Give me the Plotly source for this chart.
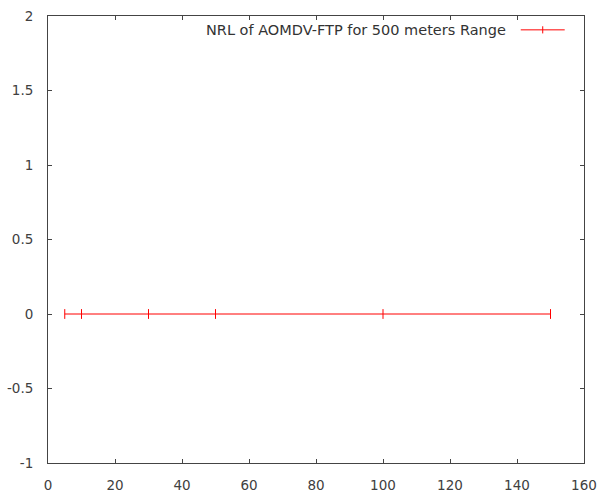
import plotly.graph_objects as go

# Data
x_values = [5, 10, 30, 50, 100, 150]
y_values = [0, 0, 0, 0, 0, 0]
series_name = "NRL of AOMDV-FTP for 500 meters Range"
x_ticks = [0, 20, 40, 60, 80, 100, 120, 140, 160]
y_ticks = [-1, -0.5, 0, 0.5, 1, 1.5, 2]
y_tick_text = ["-1", "-0.5", "0", "0.5", "1", "1.5", "2"]

FONT = "DejaVu Sans, Liberation Sans, Arial, sans-serif"

fig = go.Figure()
fig.add_trace(go.Scatter(
    x=x_values, y=y_values, mode="lines+markers", name=series_name,
    line=dict(color="#ff0000", width=1),
    marker=dict(symbol="line-ns", size=7, line=dict(color="#ff0000", width=1)),
    showlegend=False,
))

axis_common = dict(
    showline=True, linecolor="#444444", linewidth=1, mirror="allticks",
    ticks="inside", ticklen=4, tickcolor="#444444", tickwidth=1,
    showgrid=False, zeroline=False, automargin=False,
    tickfont=dict(family=FONT, size=13.5, color="#404040"),
)

fig.update_xaxes(range=[0, 160], tickvals=x_ticks, ticklabelstandoff=10, **axis_common)
fig.update_yaxes(range=[-1, 2], tickvals=y_ticks, ticktext=y_tick_text, ticklabelstandoff=11, **axis_common)

# legend (gnuplot-style: text then sample line)
fig.add_annotation(
    xref="paper", yref="paper", x=0.859, y=0.969, xanchor="right", yanchor="middle",
    text=series_name, showarrow=False,
    font=dict(family=FONT, size=14.5, color="#333333"),
)
fig.add_shape(type="line", xref="paper", yref="paper", x0=0.882, x1=0.964, y0=0.969, y1=0.969,
              line=dict(color="#ff0000", width=1))
fig.add_shape(type="line", xref="paper", yref="paper", x0=0.923, x1=0.923, y0=0.961, y1=0.977,
              line=dict(color="#ff0000", width=1))

fig.update_layout(
    width=599, height=494,
    margin=dict(l=47.5, r=14.5, t=15.5, b=30.5),
    paper_bgcolor="white", plot_bgcolor="white",
)

fig.write_html("out.html", config={"displayModeBar": False},
               post_script="document.body.style.margin='0';")
